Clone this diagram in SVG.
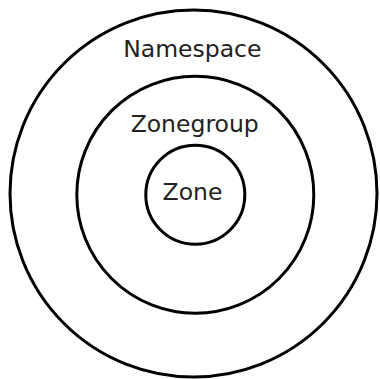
<svg xmlns="http://www.w3.org/2000/svg" width="380" height="379" viewBox="0 0 380 379">
<style>
.ring{fill:none;stroke:#000;stroke-width:3}
.lbl{font-family:"DejaVu Sans",sans-serif;font-size:23.5px;fill:#222;text-anchor:middle}
</style>
<rect width="380" height="379" fill="#fff"/>
<g id="namespace">
<circle class="ring" cx="193.5" cy="193.5" r="183.5"/>
<text class="lbl" x="192.3" y="56.7">Namespace</text>
</g>
<g id="zonegroup">
<circle class="ring" cx="195.3" cy="194.7" r="118.5"/>
<text class="lbl" x="194.7" y="131.7">Zonegroup</text>
</g>
<g id="zone">
<circle class="ring" cx="195.3" cy="194.7" r="49.5"/>
<text class="lbl" x="192.5" y="199.5">Zone</text>
</g>
<g id="connectors"></g>
</svg>
